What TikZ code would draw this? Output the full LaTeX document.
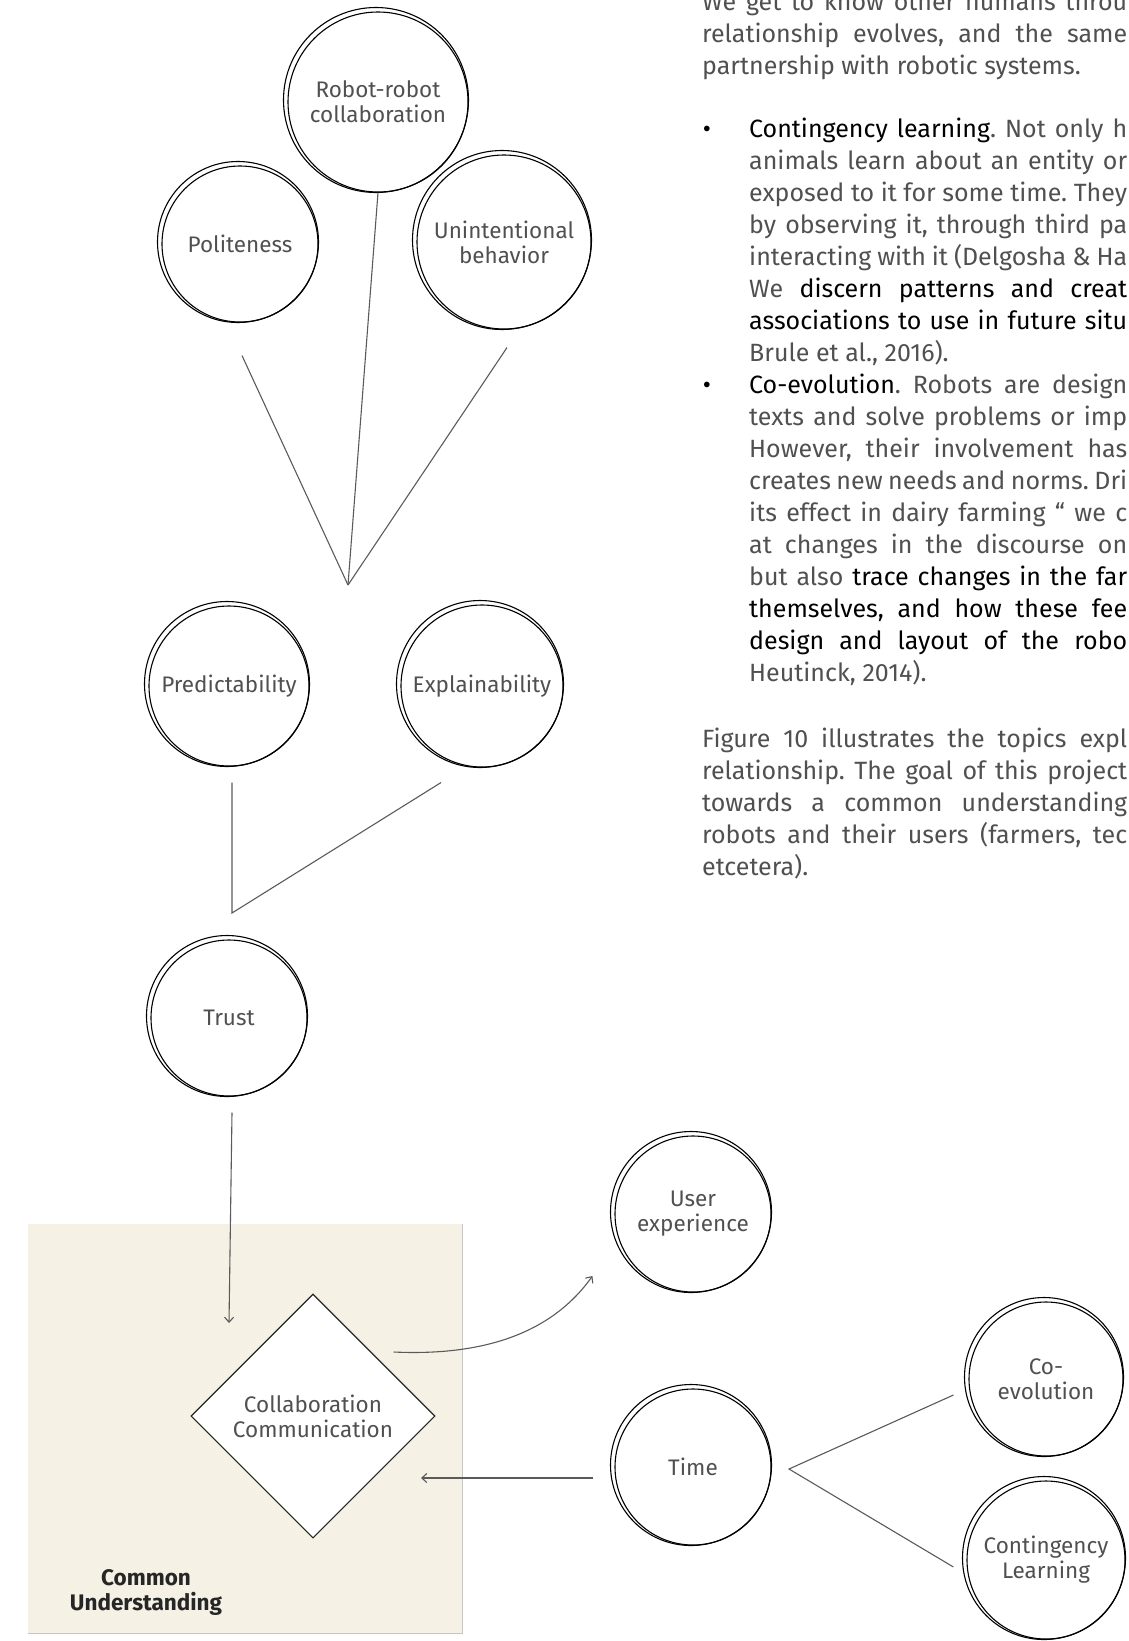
\documentclass[tikz,border=0pt]{standalone}
\usepackage{fontspec}
\setmainfont{Fira Sans}
\usetikzlibrary{shapes.geometric}
\usetikzlibrary{arrows.meta}
\definecolor{inkgray}{RGB}{80,80,80}
\definecolor{linegray}{RGB}{90,90,90}
\definecolor{boxbeige}{RGB}{245,241,229}
\newcommand{\nodefont}{\fontsize{22.5}{25}\selectfont}
\newcommand{\bodyfont}{\fontsize{25}{32}\selectfont}
\newcommand{\paralinewidth}{425pt}
\newcommand{\itemlinewidth}{378pt}
\newcommand{\pline}[1]{\makebox[\paralinewidth][s]{#1}}
\newcommand{\iline}[1]{\makebox[\itemlinewidth][s]{#1}}
\frenchspacing
\tikzset{
    ring/.style={circle, draw=black, line width=1.1pt, inner sep=0pt},
    bubble/.style={ring, minimum size=#1, align=center, font=\nodefont, text=inkgray,
        label={[ring, minimum size=#1+5pt, xshift=-2pt, yshift=2pt]center:{}}},
    bubble/.default=156pt,
    decision/.style={diamond, draw=black!85, line width=1.1pt, fill=white, aspect=1,
        minimum width=244pt, minimum height=244pt, inner sep=0pt, align=center,
        font=\nodefont, text=inkgray},
    cubox/.style={rectangle, fill=boxbeige, minimum width=434pt, minimum height=409pt, inner sep=0pt},
    link/.style={draw=linegray, line width=1.1pt},
    body/.style={anchor=base west, inner sep=0pt, font=\bodyfont, text=inkgray},
    dot/.style={anchor=base, inner sep=0pt, font=\bodyfont, text=black}
}

\begin{document}
\begin{tikzpicture}[x=1pt, y=-1pt, >={Straight Barb[length=5pt, width=9pt]}]
      \useasboundingbox (0,0) rectangle (1128,1641);

      % text column
      \foreach \txt [count=\i] in {
          {\pline{We get to know other humans throu}},
          {\pline{relationship evolves, and the same}},
          {partnership with robotic systems.}}
        \node[body] (intro-\i) at (702,{10+32*(\i-1)}) {\txt};

      \node[dot] (dot-1) at (707,137) {\textbullet};
      \foreach \txt [count=\i] in {
          {\iline{\textcolor{black}{Contingency learning}. Not only h}},
          {\iline{animals learn about an entity or}},
          {\iline{exposed to it for some time. They}},
          {\iline{by observing it, through third pa}},
          {\iline{interacting with it (Delgosha \& Ha}},
          {\iline{We \textcolor{black}{discern patterns and creat}}},
          {\iline{\textcolor{black}{associations to use in future situ}}},
          {Brule et al., 2016).}}
        \node[body] (contingency-\i) at (749,{137+32*(\i-1)}) {\txt};

      \node[dot] (dot-2) at (707,393) {\textbullet};
      \foreach \txt [count=\i] in {
          {\iline{\textcolor{black}{Co-evolution}. Robots are design}},
          {\iline{texts and solve problems or imp}},
          {\iline{However, their involvement has}},
          {\iline{creates new needs and norms. Dri}},
          {\iline{its effect in dairy farming “ we c}},
          {\iline{at changes in the discourse on}},
          {\iline{but also \textcolor{black}{trace changes in the far}}},
          {\iline{\textcolor{black}{themselves, and how these fee}}},
          {\iline{\textcolor{black}{design and layout of the robo}}},
          {Heutinck, 2014).}}
        \node[body] (coevo-\i) at (749,{393+32*(\i-1)}) {\txt};

      \foreach \txt [count=\i] in {
          {\pline{Figure 10 illustrates the topics expl}},
          {\pline{relationship. The goal of this project}},
          {\pline{towards a common understanding}},
          {\pline{robots and their users (farmers, tec}},
          {etcetera).}}
        \node[body] (outro-\i) at (702,{747+32*(\i-1)}) {\txt};

      % common understanding area
      \node[cubox] (cu-box) at (245,1428.5) {};
      \draw[white, dashed, line width=1.2pt] (cu-box.south west) -- (cu-box.north west) -- (cu-box.north east);
      \draw[gray!45, line width=0.8pt] (cu-box.north east) -- (cu-box.south east) -- (cu-box.south west);
      \node[font=\nodefont\bfseries, text=black!85, align=center] (cu-label) at (146,1592) {Common\\Understanding};

      % upper cluster
      \node[bubble=180pt] (robot) at (378,102) {Robot-robot\\collaboration};
      \node[bubble] (politeness) at (240,244) {Politeness};
      \node[bubble=174pt] (unintended) at (504,242) {Unintentional\\behavior};
      \coordinate (upper-join) at (348,585);
      \draw[link] ([shift={(2,33)}]politeness.south) -- (upper-join);
      \draw[link] (robot.south) -- (upper-join);
      \draw[link] ([shift={(3,18)}]unintended.south) -- (upper-join);

      \node[bubble=160pt] (predictability) at (229,686) {Predictability};
      \node[bubble=162pt] (explainability) at (482,686) {Explainability};
      \coordinate (lower-join) at (232,913);
      \draw[link] ([shift={(3,16)}]predictability.south) -- (lower-join) -- ([shift={(-41,15)}]explainability.south);

      \node[bubble] (trust) at (229,1018) {Trust};
      \coordinate (cu-in) at (229,1323);
      \draw[link, ->] ([shift={(3,16)}]trust.south) -- (cu-in);

      % collaboration and time
      \node[decision] (collab) at (313,1416) {Collaboration\\Communication};
      \node[bubble] (ux) at (693,1214) {User\\experience};
      \node[bubble] (time) at (693,1467) {Time};
      \node[bubble=154pt] (coevolution) at (1046,1379) {Co-\\evolution};
      \node[bubble=158pt] (contingency) at (1046,1560) {Contingency\\Learning};

      \draw[link, ->] ([shift={(-42,-64)}]collab.east) .. controls +(87,4) and +(-42,59) .. ([shift={(-22,62)}]ux.west);
      \coordinate (cu-back) at (421,1478);
      \draw[link, ->] ([shift={(-21,11)}]time.west) -- (cu-back);
      \coordinate (time-fork) at (789,1469);
      \draw[link] ([shift={(-15,16)}]coevolution.west) -- (time-fork) -- ([shift={(-13,7)}]contingency.west);
\end{tikzpicture}
\end{document}
